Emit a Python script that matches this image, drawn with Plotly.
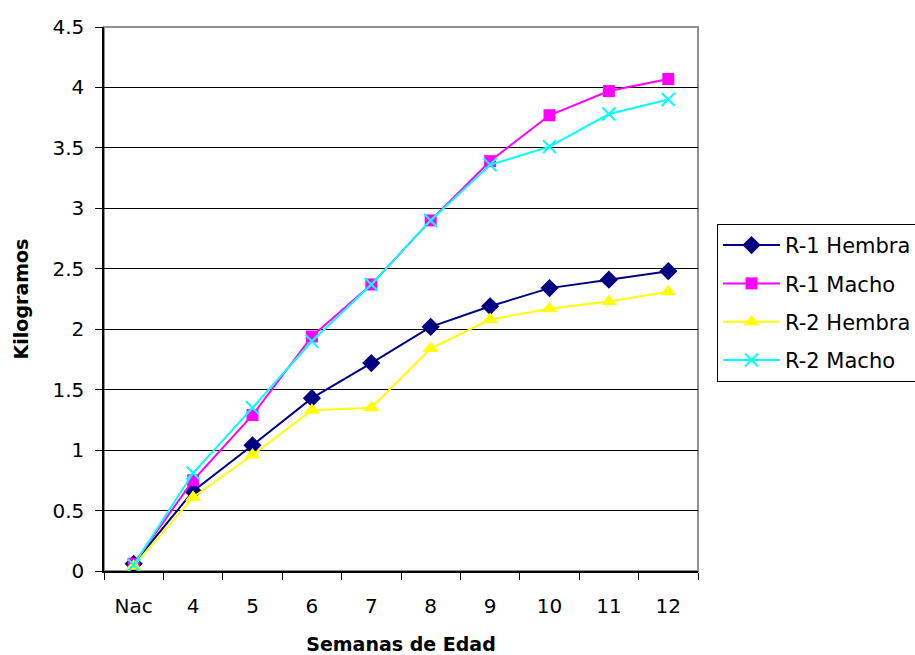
import plotly.graph_objects as go

categories = ["Nac", "4", "5", "6", "7", "8", "9", "10", "11", "12"]
r1_hembra = [0.06, 0.66, 1.04, 1.43, 1.72, 2.02, 2.19, 2.34, 2.41, 2.48]
r1_macho = [0.06, 0.75, 1.29, 1.94, 2.37, 2.90, 3.39, 3.77, 3.97, 4.07]
r2_hembra = [0.04, 0.61, 0.96, 1.33, 1.35, 1.84, 2.08, 2.17, 2.23, 2.31]
r2_macho = [0.05, 0.81, 1.35, 1.90, 2.37, 2.90, 3.36, 3.51, 3.78, 3.90]
y_ticks = [0, 0.5, 1, 1.5, 2, 2.5, 3, 3.5, 4, 4.5]
y_ticklabels = ["0", "0.5", "1", "1.5", "2", "2.5", "3", "3.5", "4", "4.5"]

FONT = "DejaVu Sans"

fig = go.Figure()
fig.add_trace(go.Scatter(x=categories, y=r1_hembra, name="R-1 Hembra", mode="lines+markers",
                         legendgroup="a",
                         line=dict(color="#000080", width=2),
                         marker=dict(symbol="diamond", size=14, color="#000080")))
fig.add_trace(go.Scatter(x=categories, y=r1_macho, name="R-1 Macho", mode="lines+markers",
                         legendgroup="b",
                         line=dict(color="#FF00FF", width=2),
                         marker=dict(symbol="square", size=12, color="#FF00FF")))
fig.add_trace(go.Scatter(x=categories, y=r2_hembra, name="R-2 Hembra", mode="lines+markers",
                         legendgroup="c",
                         line=dict(color="#FFFF00", width=2),
                         marker=dict(symbol="triangle-up", size=14, color="#FFFF00")))
fig.add_trace(go.Scatter(x=categories, y=r2_macho, name="R-2 Macho", mode="lines+markers",
                         legendgroup="d",
                         line=dict(color="#00FFFF", width=2),
                         marker=dict(symbol="x-thin-open", size=13, color="#00FFFF",
                                     line=dict(color="#00FFFF", width=2))))

fig.update_layout(
    width=915, height=655,
    margin=dict(l=104, r=217, t=27, b=84, autoexpand=False),
    paper_bgcolor="white", plot_bgcolor="white",
    font=dict(family=FONT, size=20, color="black"),
    xaxis=dict(
        type="category", range=[-0.5, 9.5], showgrid=False,
        showline=True, linecolor="black", linewidth=1.5,
        ticks="outside", ticklen=7, tickcolor="black", tickson="boundaries",
        tickfont=dict(family=FONT, size=20), ticklabelstandoff=16,
        title=dict(text="<b>Semanas de Edad</b>", font=dict(family=FONT, size=19), standoff=24),
    ),
    yaxis=dict(
        range=[0, 4.5], tickvals=y_ticks, ticktext=y_ticklabels,
        showgrid=True, gridcolor="black", gridwidth=1,
        showline=True, linecolor="black", linewidth=1.5,
        ticks="outside", ticklen=7, tickcolor="black",
        tickfont=dict(family=FONT, size=20), ticklabelstandoff=7, zeroline=False,
        title=dict(text="<b>Kilogramos</b>", font=dict(family=FONT, size=19), standoff=19),
    ),
    legend=dict(
        x=1.032, y=0.638, xanchor="left", yanchor="top",
        bordercolor="black", borderwidth=1, bgcolor="white",
        font=dict(family=FONT, size=21), itemwidth=57, tracegroupgap=8,
    ),
    shapes=[dict(type="rect", xref="paper", yref="paper", x0=0, x1=1, y0=0, y1=1,
                 line=dict(color="#909090", width=2), layer="below")],
    showlegend=True,
)

fig.write_html("out.html")
